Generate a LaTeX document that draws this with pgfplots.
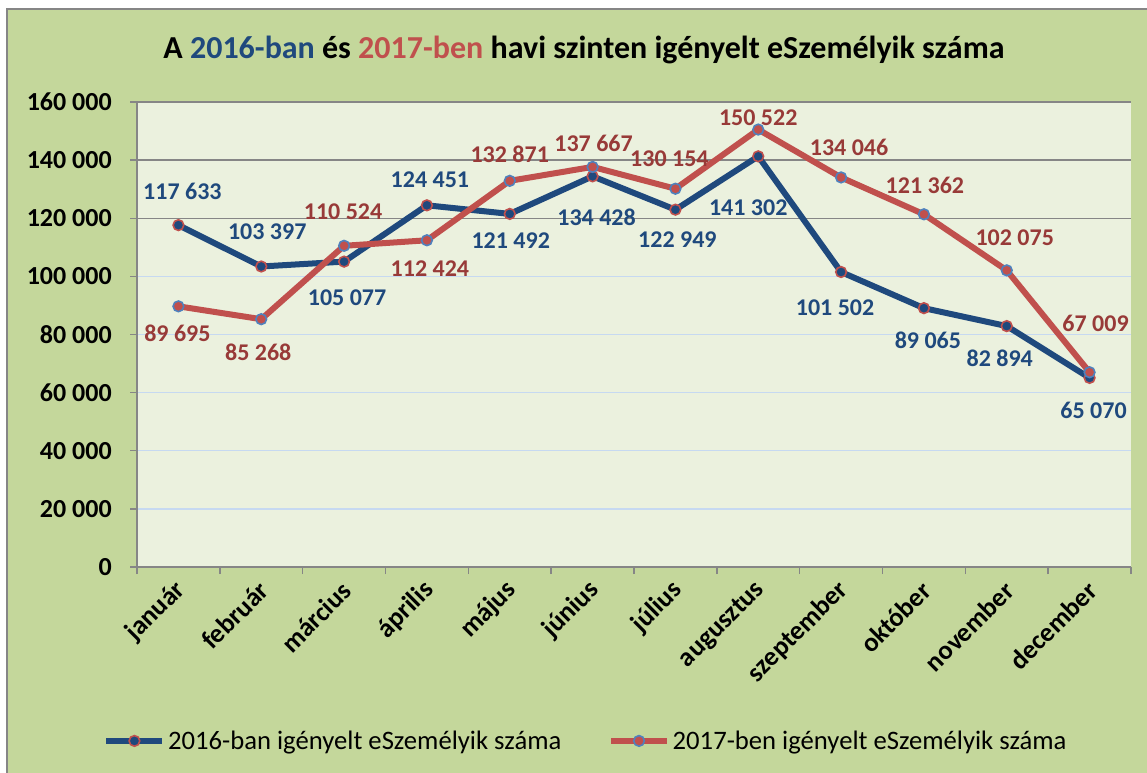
\documentclass[border=0pt]{standalone}
\usepackage{pgfplots}
\pgfplotsset{compat=1.18}
\usepackage{pgfplotstable}
\usepackage{fontspec}
\setmainfont{Carlito}
\definecolor{navy}{HTML}{1F497D}
\definecolor{redline}{HTML}{C0504D}
\definecolor{redtext}{HTML}{983A38}
\definecolor{markblue}{HTML}{4F81BD}
\definecolor{outerbg}{HTML}{C4D79B}
\definecolor{plotbg}{HTML}{EBF1DE}
\definecolor{gridblue}{HTML}{C6D9F1}
\definecolor{axgrey}{HTML}{868686}
\def\px{0.75pt}
\newcommand\lblfont{\fontsize{18}{21}\selectfont\bfseries}
\newcommand\tickfont{\fontsize{19.5}{22}\selectfont\bfseries}
\newcommand\catfont{\fontsize{20}{23}\selectfont\bfseries}

\pgfplotstableread{
x y dx dy
0 117633 4 -34
1 103397 6 -35
2 105077 3 36
3 124451 3 -26
4 121492 1 27
5 134428 4 41
6 122949 2 30
7 141302 -10 51
8 101502 -6 36
9 89065 4 32
10 82894 -7 32
11 65070 4 33
}\dataA

\pgfplotstableread{
x y dx dy
0 89695 -1 27
1 85268 -3 33
2 110524 -1 -34
3 112424 3 28
4 132871 0 -27
5 137667 1 -24
6 130154 -6 -30
7 150522 0 -12
8 134046 8 -30
9 121362 1 -29
10 102075 8 -33
11 67009 6 -49
}\dataB

\begin{document}
\begin{tikzpicture}
\useasboundingbox (0,0) rectangle (1147*\px,-773*\px);
\fill[outerbg] (7*\px,-9*\px) rectangle (1147*\px,-773*\px);
\draw[axgrey, line width=1.5pt] (7*\px,-773*\px) -- (7*\px,-9*\px) -- (1147*\px,-9*\px);
\node[font=\fontsize{24}{28}\selectfont\bfseries] at (584*\px,-50*\px)
  {A \textcolor{navy}{2016-ban} és \textcolor{redline}{2017-ben} havi szinten igényelt eSzemélyik száma};
\begin{axis}[
  at={(137*\px,-567*\px)}, anchor=south west,
  scale only axis, width=994*\px, height=465*\px,
  xmin=-0.5, xmax=11.5, ymin=0, ymax=160000,
  axis x line*=bottom, axis y line*=left,
  axis line style={draw=axgrey, line width=1.1pt},
  axis background/.style={fill=plotbg},
  tick align=outside, major tick length=5.25pt,
  tick style={draw=axgrey, line width=1.1pt},
  xtick={-0.5,0.5,...,11.5}, xticklabels={},
  extra x ticks={0,1,2,3,4,5,6,7,8,9,10,11},
  extra x tick labels={január,február,március,április,május,június,július,augusztus,szeptember,október,november,december},
  extra x tick style={major tick length=0pt, xticklabel shift=16.5pt,
     xticklabel style={rotate=45, anchor=east, font=\catfont, inner sep=0pt, xshift=3pt}},
  ytick={0,20000,40000,60000,80000,100000},
  yticklabels={0,20 000,40 000,60 000,80 000,100 000},
  extra y ticks={120000,140000,160000},
  extra y tick labels={120 000,140 000,160 000},
  extra y tick style={grid=major, major grid style={draw=axgrey, line width=1.1pt}},
  ymajorgrids, major grid style={draw=gridblue, line width=1.1pt},
  yticklabel style={font=\tickfont, anchor=east, inner sep=0pt},
  yticklabel shift=13.5pt,
  scaled y ticks=false,
  clip=false,
  legend columns=2,
  legend style={at={(0.452,-0.374)}, anchor=center, draw=none, fill=none,
    font=\fontsize{20}{23}\selectfont,
    /tikz/every even column/.append style={column sep=33pt}},
  legend image code/.code={\draw[mark repeat=2,mark phase=2,#1] plot coordinates {(0pt,0pt) (21pt,0pt) (42pt,0pt)};},
  visualization depends on={\thisrow{dx} \as \dx},
  visualization depends on={\thisrow{dy} \as \dy},
  nodes near coords={\pgfmathprintnumber[fixed, precision=0, 1000 sep={\ }, assume math mode=true]{\pgfplotspointmeta}},
  nodes near coords style={anchor=center, font=\lblfont, xshift=\dx*\px, yshift=-\dy*\px},
  point meta=y,
]
\addplot[navy, line width=4.5pt, mark=*, mark size=4pt,
  mark options={fill=navy, draw=redline, line width=1.2pt},
  nodes near coords style={text=navy}] table[x=x,y=y] {\dataA};
\addlegendentry{2016-ban igényelt eSzemélyik száma}
\addplot[redline, line width=4.5pt, mark=*, mark size=4pt,
  mark options={fill=redline, draw=markblue, line width=1.2pt},
  nodes near coords style={text=redtext}] table[x=x,y=y] {\dataB};
\addlegendentry{2017-ben igényelt eSzemélyik száma}
\end{axis}
\end{tikzpicture}
\end{document}
